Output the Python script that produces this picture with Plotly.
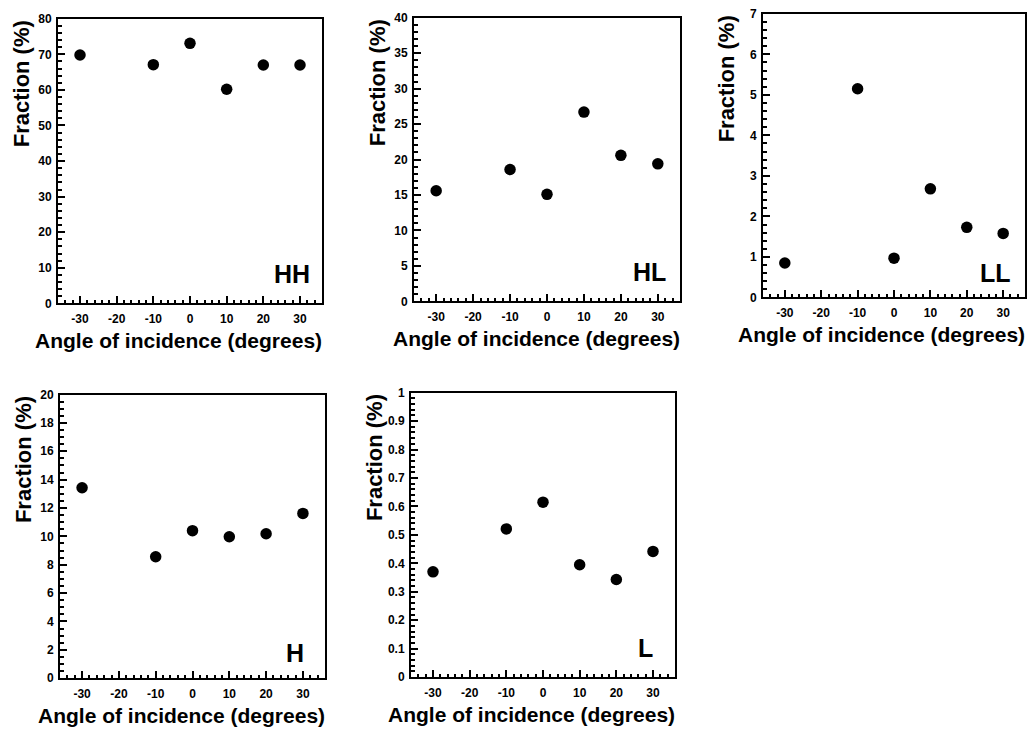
import plotly.graph_objects as go

W, H = 1033, 744

angles = [-30, -10, 0, 10, 20, 30]

frac_HH = [69.8, 67.1, 73.1, 60.2, 67.0, 67.0]
frac_HL = [15.6, 18.6, 15.1, 26.7, 20.6, 19.4]
frac_LL = [0.85, 5.15, 0.97, 2.68, 1.73, 1.58]
frac_H = [13.43, 8.56, 10.4, 9.97, 10.18, 11.62]
frac_L = [0.370, 0.521, 0.615, 0.395, 0.343, 0.442]

panel_names = ["HH", "HL", "LL", "H", "L"]
panel_values = [frac_HH, frac_HL, frac_LL, frac_H, frac_L]
y_max = [80, 40, 7, 20, 1]
y_minor = [2, 1, 0.2, 0.5, 0.02]

yticks_HH = [0, 10, 20, 30, 40, 50, 60, 70, 80]
yticks_HL = [0, 5, 10, 15, 20, 25, 30, 35, 40]
yticks_LL = [0, 1, 2, 3, 4, 5, 6, 7]
yticks_H = [0, 2, 4, 6, 8, 10, 12, 14, 16, 18, 20]
yticks_L = [0, 0.1, 0.2, 0.3, 0.4, 0.5, 0.6, 0.7, 0.8, 0.9, 1]
ytext_HH = ["0", "10", "20", "30", "40", "50", "60", "70", "80"]
ytext_HL = ["0", "5", "10", "15", "20", "25", "30", "35", "40"]
ytext_LL = ["0", "1", "2", "3", "4", "5", "6", "7"]
ytext_H = ["0", "2", "4", "6", "8", "10", "12", "14", "16", "18", "20"]
ytext_L = ["0", "0.1", "0.2", "0.3", "0.4", "0.5", "0.6", "0.7", "0.8", "0.9", "1"]
y_tick_vals = [yticks_HH, yticks_HL, yticks_LL, yticks_H, yticks_L]
y_tick_text = [ytext_HH, ytext_HL, ytext_LL, ytext_H, ytext_L]

x_tick_vals = [-30, -20, -10, 0, 10, 20, 30]
x_tick_text = ["-30", "-20", "-10", "0", "10", "20", "30"]

x_title = "Angle of incidence (degrees)"
y_title = "Fraction (%)"

# pixel boxes of each panel: left, right, top, bottom
boxes = [
    (58, 322, 12, 302),
    (414, 680, 11, 300),
    (763, 1025, 7, 296),
    (60, 325, 395, 684),
    (411, 675, 393, 683),
]
# panel label offsets (from right edge, above bottom edge)
label_off = [(10, 30), (12, 30), (12, 25), (19, 26), (20, 30)]

FONT = "Liberation Sans, Arial, Helvetica, sans-serif"

def px(x):
    return x / W

def py(y):
    return 1 - y / H

def bold(labels):
    return [f"<b>{s}</b>" for s in labels]

fig = go.Figure()
annotations = []

for i, (name, vals) in enumerate(zip(panel_names, panel_values)):
    l, r, t, b = boxes[i]
    n = i + 1
    xa = "x" if n == 1 else f"x{n}"
    ya = "y" if n == 1 else f"y{n}"
    fig.add_trace(go.Scatter(
        x=angles, y=vals, mode="markers",
        marker=dict(symbol="circle", size=11.5, color="black", line=dict(width=0)),
        xaxis=xa, yaxis=ya, showlegend=False, hoverinfo="x+y",
    ))
    common = dict(
        showline=True, linecolor="black", linewidth=2, mirror=True,
        ticks="inside", ticklen=7, tickwidth=1.5, tickcolor="black",
        showgrid=False, zeroline=False,
        tickfont=dict(family=FONT, size=12, color="black"),
        fixedrange=True,
    )
    xkey = "xaxis" if n == 1 else f"xaxis{n}"
    ykey = "yaxis" if n == 1 else f"yaxis{n}"
    fig.update_layout(**{
        xkey: dict(
            domain=[px(l), px(r)], anchor=ya, range=[-36, 36],
            tickmode="array", tickvals=x_tick_vals, ticktext=bold(x_tick_text),
            minor=dict(ticks="inside", ticklen=3.5, tickwidth=1.5, tickcolor="black",
                       dtick=2, tick0=0, showgrid=False),
            ticklabelstandoff=3,
            **common,
        ),
        ykey: dict(
            domain=[py(b), py(t)], anchor=xa, range=[0, y_max[i]],
            tickmode="array", tickvals=y_tick_vals[i], ticktext=bold(y_tick_text[i]),
            minor=dict(ticks="inside", ticklen=3.5, tickwidth=1.5, tickcolor="black",
                       dtick=y_minor[i], tick0=0, showgrid=False),
            ticklabelstandoff=2,
            **common,
        ),
    })
    # x title, right-aligned at the plot's right edge
    annotations.append(dict(
        text=f"<b>{x_title}</b>", xref="paper", yref="paper",
        x=px(r + 2), y=py(b + 38), xanchor="right", yanchor="middle",
        showarrow=False,
        font=dict(family=FONT, size=21, color="black"),
    ))
    # y title, top-aligned at the plot's top edge
    annotations.append(dict(
        text=f"<b>{y_title}</b>", xref="paper", yref="paper", textangle=-90,
        x=px(l - 37), y=py(t), xanchor="center", yanchor="top",
        showarrow=False,
        font=dict(family=FONT, size=22, color="black"),
    ))
    dx, dy = label_off[i]
    annotations.append(dict(
        text=f"<b>{name}</b>", xref="paper", yref="paper",
        x=px(r - dx), y=py(b - dy), xanchor="right", yanchor="middle",
        showarrow=False,
        font=dict(family=FONT, size=25, color="black"),
    ))

fig.update_layout(
    width=W, height=H,
    margin=dict(l=0, r=0, t=0, b=0),
    paper_bgcolor="white", plot_bgcolor="white",
    annotations=annotations,
    showlegend=False,
)

fig.write_html("out.html")
